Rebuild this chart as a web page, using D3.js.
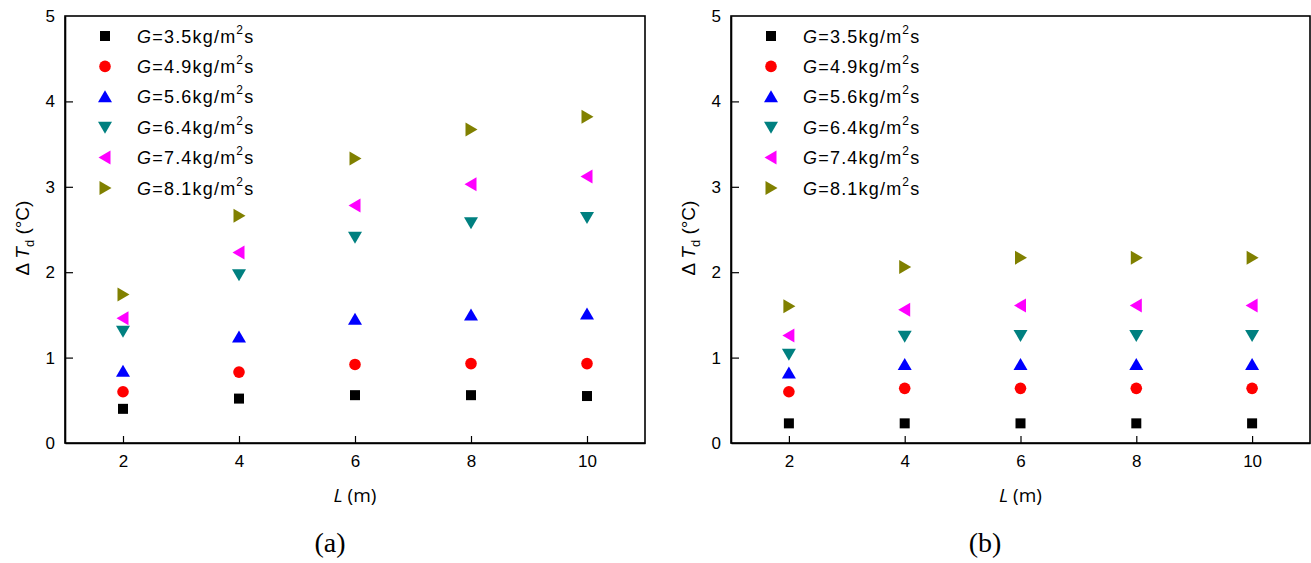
<!DOCTYPE html>
<html>
<head>
<meta charset="utf-8">
<script src="https://cdn.jsdelivr.net/npm/d3@7"></script>
<style>
  body { margin: 0; background: #fff; }
  svg text { font-family: "Liberation Sans", Arial, sans-serif; }
</style>
</head>
<body>
<div id="chart"></div>
<script>
// x positions (L, m)
var lengths = [2, 4, 6, 8, 10];
var xTicks = [2, 4, 6, 8, 10];
var yTicks = [0, 1, 2, 3, 4, 5];

// mass flux labels for the legend
var fluxLabels = ['3.5', '4.9', '5.6', '6.4', '7.4', '8.1'];

// panel (a) ΔTd values, one array per G
var a35 = [0.40, 0.52, 0.56, 0.56, 0.55];
var a49 = [0.60, 0.83, 0.92, 0.93, 0.93];
var a56 = [0.84, 1.24, 1.45, 1.50, 1.51];
var a64 = [1.31, 1.97, 2.41, 2.58, 2.64];
var a74 = [1.46, 2.23, 2.78, 3.03, 3.12];
var a81 = [1.74, 2.66, 3.33, 3.67, 3.82];

// panel (b) ΔTd values
var b35 = [0.23, 0.23, 0.23, 0.23, 0.23];
var b49 = [0.60, 0.64, 0.64, 0.64, 0.64];
var b56 = [0.82, 0.92, 0.92, 0.92, 0.92];
var b64 = [1.04, 1.25, 1.26, 1.26, 1.26];
var b74 = [1.26, 1.56, 1.61, 1.61, 1.61];
var b81 = [1.60, 2.06, 2.17, 2.17, 2.17];

var colors = ['#000000', '#ff0000', '#0000ff', '#008080', '#ff00ff', '#808000'];
var shapes = ['square', 'circle', 'up', 'down', 'left', 'right'];

var panels = [
    {left: 65, right: 645, tag: '(a)', tagX: 330, series: [a35, a49, a56, a64, a74, a81]},
    {left: 731, right: 1310, tag: '(b)', tagX: 985, series: [b35, b49, b56, b64, b74, b81]}
];

var plotTop = 16, plotBottom = 443;

var svg = d3.select("#chart").append("svg")
    .attr("width", 1311)
    .attr("height", 563);

// draws one marker centred on 0,0
function marker(g, shape, color) {
    if (shape === 'square') {
        g.append("rect").attr("x", -5).attr("y", -5).attr("width", 10).attr("height", 10).attr("fill", color);
    } else if (shape === 'circle') {
        g.append("circle").attr("r", 5.8).attr("fill", color);
    } else {
        var pts;
        if (shape === 'up') pts = [[0, -6.5], [7, 5.5], [-7, 5.5]];
        if (shape === 'down') pts = [[0, 6.5], [7, -5.5], [-7, -5.5]];
        if (shape === 'left') pts = [[-6.5, 0], [5.5, -7], [5.5, 7]];
        if (shape === 'right') pts = [[6.5, 0], [-5.5, -7], [-5.5, 7]];
        g.append("polygon").attr("points", pts.map(function (p) { return p.join(','); }).join(' ')).attr("fill", color);
    }
}

panels.forEach(function (p) {
    var x = d3.scaleLinear().domain([1, 11]).range([p.left, p.right]);
    var y = d3.scaleLinear().domain([0, 5]).range([plotBottom, plotTop]);
    var g = svg.append("g");

    // frame
    g.append("rect")
        .attr("x", p.left).attr("y", plotTop)
        .attr("width", p.right - p.left).attr("height", plotBottom - plotTop)
        .attr("fill", "none").attr("stroke", "#000").attr("stroke-width", 1.6);

    // axes, ticks inside
    var xAxis = g.append("g").attr("transform", "translate(0," + plotBottom + ")")
        .call(d3.axisBottom(x).tickValues(xTicks).tickFormat(d3.format("d"))
            .tickSizeInner(-7).tickSizeOuter(0).tickPadding(12));
    var yAxis = g.append("g").attr("transform", "translate(" + p.left + ",0)")
        .call(d3.axisLeft(y).tickValues(yTicks).tickFormat(d3.format("d"))
            .tickSizeInner(-8).tickSizeOuter(0).tickPadding(10));
    [xAxis, yAxis].forEach(function (ax) {
        ax.select(".domain").attr("stroke-width", 1.6);
        ax.selectAll(".tick line").attr("stroke-width", 1.2);
        ax.selectAll("text").attr("fill", "#000")
            .style("font-size", "17px")
            .style("font-family", '"Liberation Sans", Arial, sans-serif');
    });
    yAxis.selectAll(".tick").filter(function (d) { return d === 5 || d === 0; }).select("line").remove();

    // data points
    p.series.forEach(function (vals, si) {
        vals.forEach(function (v, i) {
            var m = g.append("g").attr("transform", "translate(" + x(lengths[i]) + "," + y(v) + ")");
            marker(m, shapes[si], colors[si]);
        });
    });

    // legend
    fluxLabels.forEach(function (lab, i) {
        var ly = 36 + i * 30.4;
        var m = g.append("g").attr("transform", "translate(" + (p.left + 40) + "," + ly + ")");
        marker(m, shapes[i], colors[i]);
        var t = g.append("text")
            .attr("x", p.left + 72).attr("y", ly + 6.5)
            .style("font-size", "18px")
            .style("letter-spacing", "1.2px");
        t.append("tspan").attr("font-style", "italic").text("G");
        t.append("tspan").text("=" + lab + "kg/m");
        t.append("tspan").style("font-size", "12px").attr("dy", -9).text("2");
        t.append("tspan").attr("dy", 9).text("s");
    });

    // y label
    var yl = g.append("text")
        .attr("transform", "translate(" + (p.left - 36) + "," + 238 + ") rotate(-90)")
        .attr("text-anchor", "middle")
        .style("font-size", "19px");
    yl.append("tspan").text("\u0394");
    yl.append("tspan").attr("font-style", "italic").attr("dx", 4).text("T");
    yl.append("tspan").style("font-size", "13px").attr("dy", 5).text("d");
    yl.append("tspan").attr("dy", -5).text(" (\u00b0C)");

    // x label
    var xl = g.append("text")
        .attr("x", x(6)).attr("y", 502)
        .attr("text-anchor", "middle")
        .style("font-size", "19px")
        .style("font-family", '"Open Sans", "Noto Sans", sans-serif');
    xl.append("tspan").attr("font-style", "italic").text("L");
    xl.append("tspan").text(" (m)");

    // panel tag
    g.append("text")
        .attr("x", p.tagX).attr("y", 552)
        .attr("text-anchor", "middle")
        .style("font-size", "28px")
        .style("font-family", '"Liberation Serif", "DejaVu Serif", serif')
        .text(p.tag);
});
</script>
</body>
</html>
